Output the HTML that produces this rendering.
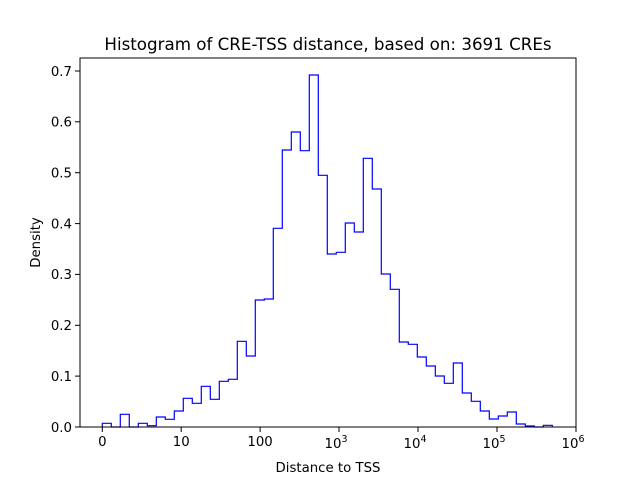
<!DOCTYPE html>
<html><head><meta charset="utf-8"><style>
html,body{margin:0;padding:0;background:#fff;}
svg{display:block;font-family:"DejaVu Sans","Liberation Sans",sans-serif;}
</style></head><body>
<svg width="640" height="480" viewBox="0 0 640 480" xmlns="http://www.w3.org/2000/svg">
<rect width="640" height="480" fill="#fff"/>
<path fill="none" stroke="#0000ff" stroke-width="1.2" stroke-linejoin="miter" d="
M102.3,427 V423.3 H111.3 V427 H120.3 V414.3 H129.3 V427 H138.3 V423.3 H147.3 V425.7 H156.3 V417 H165.3 V419.3 H174.3 V411 H183.3 V398.3 H192.3 V403.3 H201.3 V386.3 H210.3 V399.3 H219.3 V381.3 H228.3 V379.3 H237.3 V341.3 H246.3 V356 H255.3 V300 H264.3 V299 H273.3 V228.3 H282.3 V150 H291.3 V132 H300.3 V150.7 H309.3 V75 H318.3 V175.3 H327.3 V254 H336.3 V252.3 H345.3 V223 H354.3 V232 H363.3 V158.3 H372.3 V189 H381.3 V274 H390.3 V289.3 H399.3 V342 H408.3 V344.3 H417.3 V357 H426.3 V366 H435.3 V376 H444.3 V383.3 H453.3 V363 H462.3 V393 H471.3 V401.3 H480.3 V411 H489.3 V419 H498.3 V416 H507.3 V412 H516.3 V424 H525.3 V426 H534.3 V427 H543.3 V425.3 H552.3 V427"/>
<rect x="80" y="58" width="496" height="369" fill="none" stroke="#000" stroke-width="1"/>
<g stroke="#000" stroke-width="1">
<line x1="102.3" y1="427" x2="102.3" y2="432"/>
<line x1="181.2" y1="427" x2="181.2" y2="432"/>
<line x1="260.1" y1="427" x2="260.1" y2="432"/>
<line x1="339" y1="427" x2="339" y2="432"/>
<line x1="418" y1="427" x2="418" y2="432"/>
<line x1="497" y1="427" x2="497" y2="432"/>
<line x1="576" y1="427" x2="576" y2="432"/>
<line x1="75" y1="427" x2="80" y2="427"/>
<line x1="75" y1="376.1" x2="80" y2="376.1"/>
<line x1="75" y1="325.3" x2="80" y2="325.3"/>
<line x1="75" y1="274.4" x2="80" y2="274.4"/>
<line x1="75" y1="223.6" x2="80" y2="223.6"/>
<line x1="75" y1="172.7" x2="80" y2="172.7"/>
<line x1="75" y1="121.8" x2="80" y2="121.8"/>
<line x1="75" y1="71" x2="80" y2="71"/>
</g>
<g font-size="13.3" fill="#000" text-anchor="end">
<text x="72" y="432">0.0</text>
<text x="72" y="381">0.1</text>
<text x="72" y="330">0.2</text>
<text x="72" y="279">0.3</text>
<text x="72" y="228.5">0.4</text>
<text x="72" y="177.5">0.5</text>
<text x="72" y="126.5">0.6</text>
<text x="72" y="76">0.7</text>
</g>
<g font-size="13.3" fill="#000" text-anchor="middle">
<text x="102.3" y="446">0</text>
<text x="181.2" y="446">10</text>
<text x="260.1" y="446">100</text>
<text x="336" y="448">10<tspan font-size="9.5" dy="-6">3</tspan></text>
<text x="415" y="448">10<tspan font-size="9.5" dy="-6">4</tspan></text>
<text x="494" y="448">10<tspan font-size="9.5" dy="-6">5</tspan></text>
<text x="573" y="448">10<tspan font-size="9.5" dy="-6">6</tspan></text>
<text x="328" y="472">Distance to TSS</text>
<text x="328" y="50" font-size="16.7">Histogram of CRE-TSS distance, based on: 3691 CREs</text>
</g>
<text x="0" y="0" font-size="13.3" text-anchor="middle" transform="translate(40,242.5) rotate(-90)">Density</text>
</svg>
</body></html>
